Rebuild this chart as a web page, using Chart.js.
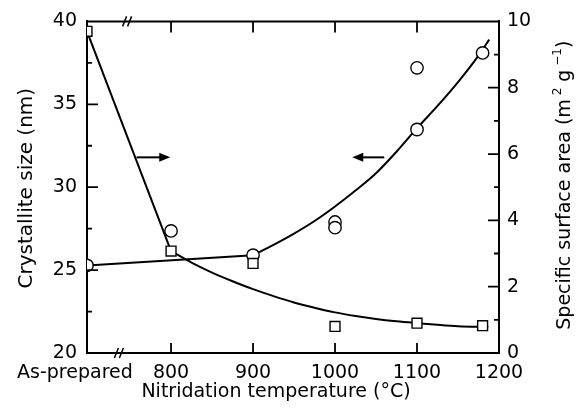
<!DOCTYPE html>
<html>
<head>
<meta charset="utf-8">
<script src="https://cdn.jsdelivr.net/npm/chart.js@4.4.1/dist/chart.umd.min.js"></script>
<style>
  html, body { margin: 0; padding: 0; background: #fff; }
  #wrap { width: 580px; height: 416px; }
</style>
</head>
<body>
<div id="wrap"><canvas id="chart"></canvas></div>
<script>
// the as-prepared sample sits on the left edge of the temperature axis
const asPrepared = 697.5;
const xTicks = [asPrepared, 800, 900, 1000, 1100, 1200];
// trailing spaces push the first label left of its tick, as in the figure
const xTickLabels = ['As-prepared\u00a0\u00a0\u00a0\u00a0', '800', '900', '1000', '1100', '1200'];

// crystallite size (nm) - squares, left axis
const sizeTemps = [asPrepared, 800, 900, 1000, 1100, 1180];
const sizeValues = [39.4, 26.15, 25.4, 21.6, 21.8, 21.65];
// drawn trend: straight drop, then a smooth decay
const sizeLineTemps = [asPrepared, 800];
const sizeLineValues = [39.4, 26.15];
const sizeCurveTemps = [800, 825, 850, 875, 900, 925, 950, 975, 1000, 1025, 1050, 1075, 1100, 1125, 1150, 1187];
const sizeCurveValues = [26.15, 25.45, 24.85, 24.33, 23.85, 23.43, 23.05, 22.73, 22.45, 22.23, 22.05, 21.91, 21.8, 21.7, 21.62, 21.58];

// specific surface area (m2/g) - circles, right axis
const areaTemps = [asPrepared, 800, 900, 1000, 1000, 1100, 1100, 1180];
const areaValues = [2.64, 3.68, 2.95, 3.95, 3.78, 6.74, 8.6, 9.05];
const areaLineTemps = [asPrepared, 900];
const areaLineValues = [2.64, 2.95];
const areaCurveTemps = [900, 925, 950, 975, 1000, 1025, 1050, 1075, 1100, 1125, 1150, 1175, 1188];
const areaCurveValues = [2.95, 3.26, 3.6, 3.98, 4.42, 4.9, 5.42, 6.07, 6.78, 7.45, 8.17, 8.97, 9.45];

// annotation arrows (temperature span, crystallite-size height)
const arrowRight = [758, 799];
const arrowLeft = [1060, 1021];
const arrowLevel = 31.8;
// axis break marks
const breakBottom = 737;
const breakTop = 747;

const FONT = '"DejaVu Sans", sans-serif';
const toPoints = (xs, ys) => xs.map((x, i) => ({ x, y: ys[i] }));

const decorations = {
  id: 'decorations',
  afterDraw(chart) {
    const { ctx, chartArea: a, scales: { x, y, y2 } } = chart;
    ctx.save();
    ctx.strokeStyle = '#000';
    ctx.fillStyle = '#000';

    // top frame
    ctx.lineWidth = 2;
    ctx.beginPath();
    ctx.moveTo(a.left, a.top);
    ctx.lineTo(a.right, a.top);
    ctx.stroke();

    // inward ticks
    ctx.lineWidth = 1.8;
    ctx.beginPath();
    [800, 900, 1000, 1100].forEach(v => {
      const px = x.getPixelForValue(v);
      ctx.moveTo(px, a.bottom); ctx.lineTo(px, a.bottom - 10);
      ctx.moveTo(px, a.top); ctx.lineTo(px, a.top + 11);
    });
    for (let v = 22.5; v < 40; v += 2.5) {
      const py = y.getPixelForValue(v);
      ctx.moveTo(a.left, py); ctx.lineTo(a.left + (v % 5 === 0 ? 11 : 5), py);
    }
    for (let v = 1; v < 10; v++) {
      const py = y2.getPixelForValue(v);
      ctx.moveTo(a.right, py); ctx.lineTo(a.right - (v % 2 === 0 ? 11 : 5), py);
    }
    ctx.stroke();

    // axis breaks
    ctx.lineWidth = 1.5;
    ctx.beginPath();
    [[breakBottom, a.bottom], [breakTop, a.top]].forEach(([v, py]) => {
      const px = x.getPixelForValue(v);
      for (let k = 0; k < 2; k++) {
        ctx.moveTo(px - 5 + k * 5, py + 5);
        ctx.lineTo(px - 1 + k * 5, py - 5);
      }
    });
    ctx.stroke();

    // arrows
    const ay = y.getPixelForValue(arrowLevel);
    [arrowRight, arrowLeft].forEach(([from, to]) => {
      const x0 = x.getPixelForValue(from);
      const x1 = x.getPixelForValue(to);
      const dir = Math.sign(x1 - x0);
      ctx.lineWidth = 2;
      ctx.beginPath();
      ctx.moveTo(x0, ay);
      ctx.lineTo(x1 - dir * 8, ay);
      ctx.stroke();
      ctx.beginPath();
      ctx.moveTo(x1, ay);
      ctx.lineTo(x1 - dir * 11, ay - 4.5);
      ctx.lineTo(x1 - dir * 11, ay + 4.5);
      ctx.closePath();
      ctx.fill();
    });

    // axis titles
    ctx.font = '19px ' + FONT;
    ctx.textBaseline = 'alphabetic';
    ctx.textAlign = 'center';
    ctx.fillText('Nitridation temperature (\u00b0C)', (a.left + a.right) / 2 - 17, a.bottom + 44);

    ctx.save();
    ctx.font = '20px ' + FONT;
    ctx.translate(32, (a.top + a.bottom) / 2 + 1);
    ctx.rotate(-Math.PI / 2);
    ctx.fillText('Crystallite size (nm)', 0, 0);
    ctx.restore();

    // right title with superscripts, reading upwards
    const parts = [
      ['Specific surface area (m', false],
      [' 2', true],
      [' g', false],
      [' \u22121', true],
      [')', false]
    ];
    const fontFor = sup => (sup ? '12px ' : '19px ') + FONT;
    let total = 0;
    parts.forEach(([t, sup]) => { ctx.font = fontFor(sup); total += ctx.measureText(t).width; });
    ctx.save();
    ctx.translate(570, (a.top + a.bottom) / 2 - 2);
    ctx.rotate(-Math.PI / 2);
    ctx.textAlign = 'left';
    let cx = -total / 2;
    parts.forEach(([t, sup]) => {
      ctx.font = fontFor(sup);
      ctx.fillText(t, cx, sup ? -9 : 0);
      cx += ctx.measureText(t).width;
    });
    ctx.restore();

    ctx.restore();
  }
};

const tickFont = { family: FONT, size: 19 };

new Chart(document.getElementById('chart'), {
  type: 'scatter',
  data: {
    datasets: [
      {
        label: 'Crystallite size',
        data: toPoints(sizeTemps, sizeValues),
        yAxisID: 'y',
        pointStyle: 'rect',
        pointRadius: 7,
        backgroundColor: '#fff',
        borderColor: '#000',
        borderWidth: 1.4,
        showLine: false
      },
      {
        label: 'Specific surface area',
        data: toPoints(areaTemps, areaValues),
        yAxisID: 'y2',
        pointStyle: 'circle',
        pointRadius: 6.2,
        backgroundColor: '#fff',
        borderColor: '#000',
        borderWidth: 1.4,
        showLine: false
      },
      {
        data: toPoints(sizeLineTemps, sizeLineValues),
        yAxisID: 'y', showLine: true, pointRadius: 0,
        borderColor: '#000', borderWidth: 2, tension: 0
      },
      {
        data: toPoints(sizeCurveTemps, sizeCurveValues),
        yAxisID: 'y', showLine: true, pointRadius: 0,
        borderColor: '#000', borderWidth: 2, cubicInterpolationMode: 'monotone'
      },
      {
        data: toPoints(areaLineTemps, areaLineValues),
        yAxisID: 'y2', showLine: true, pointRadius: 0,
        borderColor: '#000', borderWidth: 2, tension: 0
      },
      {
        data: toPoints(areaCurveTemps, areaCurveValues),
        yAxisID: 'y2', showLine: true, pointRadius: 0,
        borderColor: '#000', borderWidth: 2, cubicInterpolationMode: 'monotone'
      }
    ]
  },
  options: {
    responsive: true,
    maintainAspectRatio: false,
    animation: false,
    layout: { padding: { top: 16, left: 0, right: 0, bottom: 0 } },
    plugins: { legend: { display: false }, tooltip: { enabled: false } },
    scales: {
      x: {
        type: 'linear',
        min: asPrepared,
        max: 1200,
        afterBuildTicks: s => { s.ticks = xTicks.map(v => ({ value: v })); },
        afterFit: s => { s.height = 63; },
        ticks: {
          autoSkip: false,
          maxRotation: 0,
          padding: 9,
          color: '#000',
          font: tickFont,
          callback: (v, i) => xTickLabels[i]
        },
        grid: { display: false, drawTicks: false },
        border: { display: true, color: '#000', width: 2 }
      },
      y: {
        position: 'left',
        min: 20,
        max: 40,
        afterFit: s => { s.width = 87; },
        ticks: { stepSize: 5, padding: 10, color: '#000', font: tickFont },
        grid: { display: false, drawTicks: false },
        border: { display: true, color: '#000', width: 2 }
      },
      y2: {
        position: 'right',
        min: 0,
        max: 10,
        afterFit: s => { s.width = 81; },
        ticks: { stepSize: 2, padding: 8, color: '#000', font: tickFont },
        grid: { display: false, drawTicks: false },
        border: { display: true, color: '#000', width: 2 }
      }
    }
  },
  plugins: [decorations]
});
</script>
</body>
</html>
